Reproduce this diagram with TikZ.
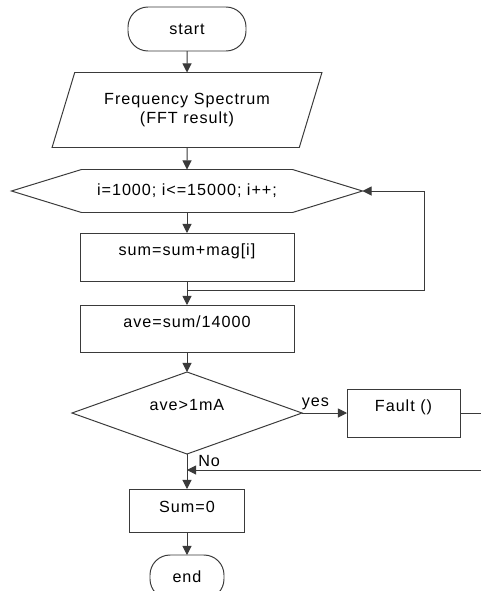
\documentclass[tikz,border=0pt]{standalone}
\usepackage{fontspec}
\setmainfont[LetterSpace=6]{Liberation Sans}
\usepackage{tikz}
\usetikzlibrary{arrows.meta,positioning,shapes.geometric,calc}
\definecolor{ink}{HTML}{3A3A3A}
\tikzset{
  termbox/.style={
    rectangle, rounded corners=0.5cm, draw=ink, line width=0.7pt,
    minimum width=#1, minimum height=1.1cm,
    font=\flowfont, align=center, outer sep=0pt
  },
  termbox/.default=2.95cm,
  iobox/.style={
    trapezium, trapezium left angle=68, trapezium right angle=112,
    trapezium stretches=true, draw=ink, line width=0.7pt,
    minimum width=6.75cm, minimum height=1.875cm,
    font=\flowfont, align=center, outer sep=0pt
  },
  looptext/.style={
    rectangle, minimum width=5.275cm, minimum height=1.075cm,
    font=\flowfont, outer sep=0pt, inner sep=0pt
  },
  procbox/.style={
    rectangle, draw=ink, line width=0.7pt,
    minimum width=#1, minimum height=1.2cm,
    font=\flowfont, align=center, outer sep=0pt,
    text height=0.3cm, text depth=0.36cm
  },
  procbox/.default=5.35cm,
  decbox/.style={
    diamond, shape aspect=2.8, draw=ink, line width=0.7pt,
    minimum width=5.75cm, minimum height=2.05cm, inner sep=0pt,
    font=\flowfont, align=center, outer sep=0pt,
    text height=0.3cm, text depth=0.42cm
  },
  flowline/.style={draw=ink, line width=0.7pt},
  flowarrow/.style={
    flowline, -{Triangle[length=6.5pt, width=6.5pt]}
  },
  tag/.style={font=\flowfont, inner sep=2pt}
}
\newcommand{\flowfont}{\fontsize{11.5}{14}\selectfont}

\begin{document}
\begin{tikzpicture}
  \path[fill=white, use as bounding box] (0,0) rectangle (12,-14.775);

  \node[termbox] (start) at (4.675,-0.725) {start};
  \node[iobox] (spectrum) at (4.675,-2.75) {Frequency Spectrum\\(FFT result)};
  \node[looptext] (loop) at (4.675,-4.775) {i=1000; i<=15000; i++;};
  \coordinate (loopL) at ([xshift=-1.75cm]loop.west);
  \coordinate (loopR) at ([xshift=1.75cm]loop.east);
  \draw[flowline] (loop.north west) -- (loop.north east) -- (loopR)
    -- (loop.south east) -- (loop.south west) -- (loopL) -- cycle;
  \node[procbox] (acc) at (4.675,-6.425) {sum=sum+mag[i]};
  \node[procbox, minimum height=1.175cm] (ave) at (4.675,-8.2125) {ave=sum/14000};
  \node[decbox] (check) at (4.675,-10.325) {ave>1mA};
  \node[procbox=2.825cm] (fault) at (10.0875,-10.325) {Fault ()};
  \node[procbox=2.875cm, minimum height=1.075cm, text depth=0.2cm] (reset) at (4.675,-12.7625) {Sum=0};
  \node[termbox=1.85cm] (end) at (4.675,-14.425) {end};

  \coordinate (loopjoin) at ([yshift=-0.225cm]acc.south);
  \coordinate (faultjoin) at (4.675,-11.75);

  \draw[flowarrow] (start) -- (spectrum);
  \draw[flowarrow] (spectrum) -- (loop);
  \draw[flowarrow] (loop) -- (acc);
  \draw[flowarrow] (acc) -- (ave);
  \draw[flowarrow] (loopjoin) -- ++(5.925,0) |- (loopR);
  \draw[flowarrow] (ave) -- (check);
  \draw[flowarrow] (check) -- node[tag, pos=0.3, above] {yes} (fault);
  \draw[flowarrow] (check.south) -- node[tag, pos=0.2, right, xshift=0.2cm] {No} (reset);
  \draw[flowarrow] (fault.east) -- ++(0.8,0) |- (faultjoin);
  \draw[flowarrow] (reset) -- (end);
\end{tikzpicture}
\end{document}
